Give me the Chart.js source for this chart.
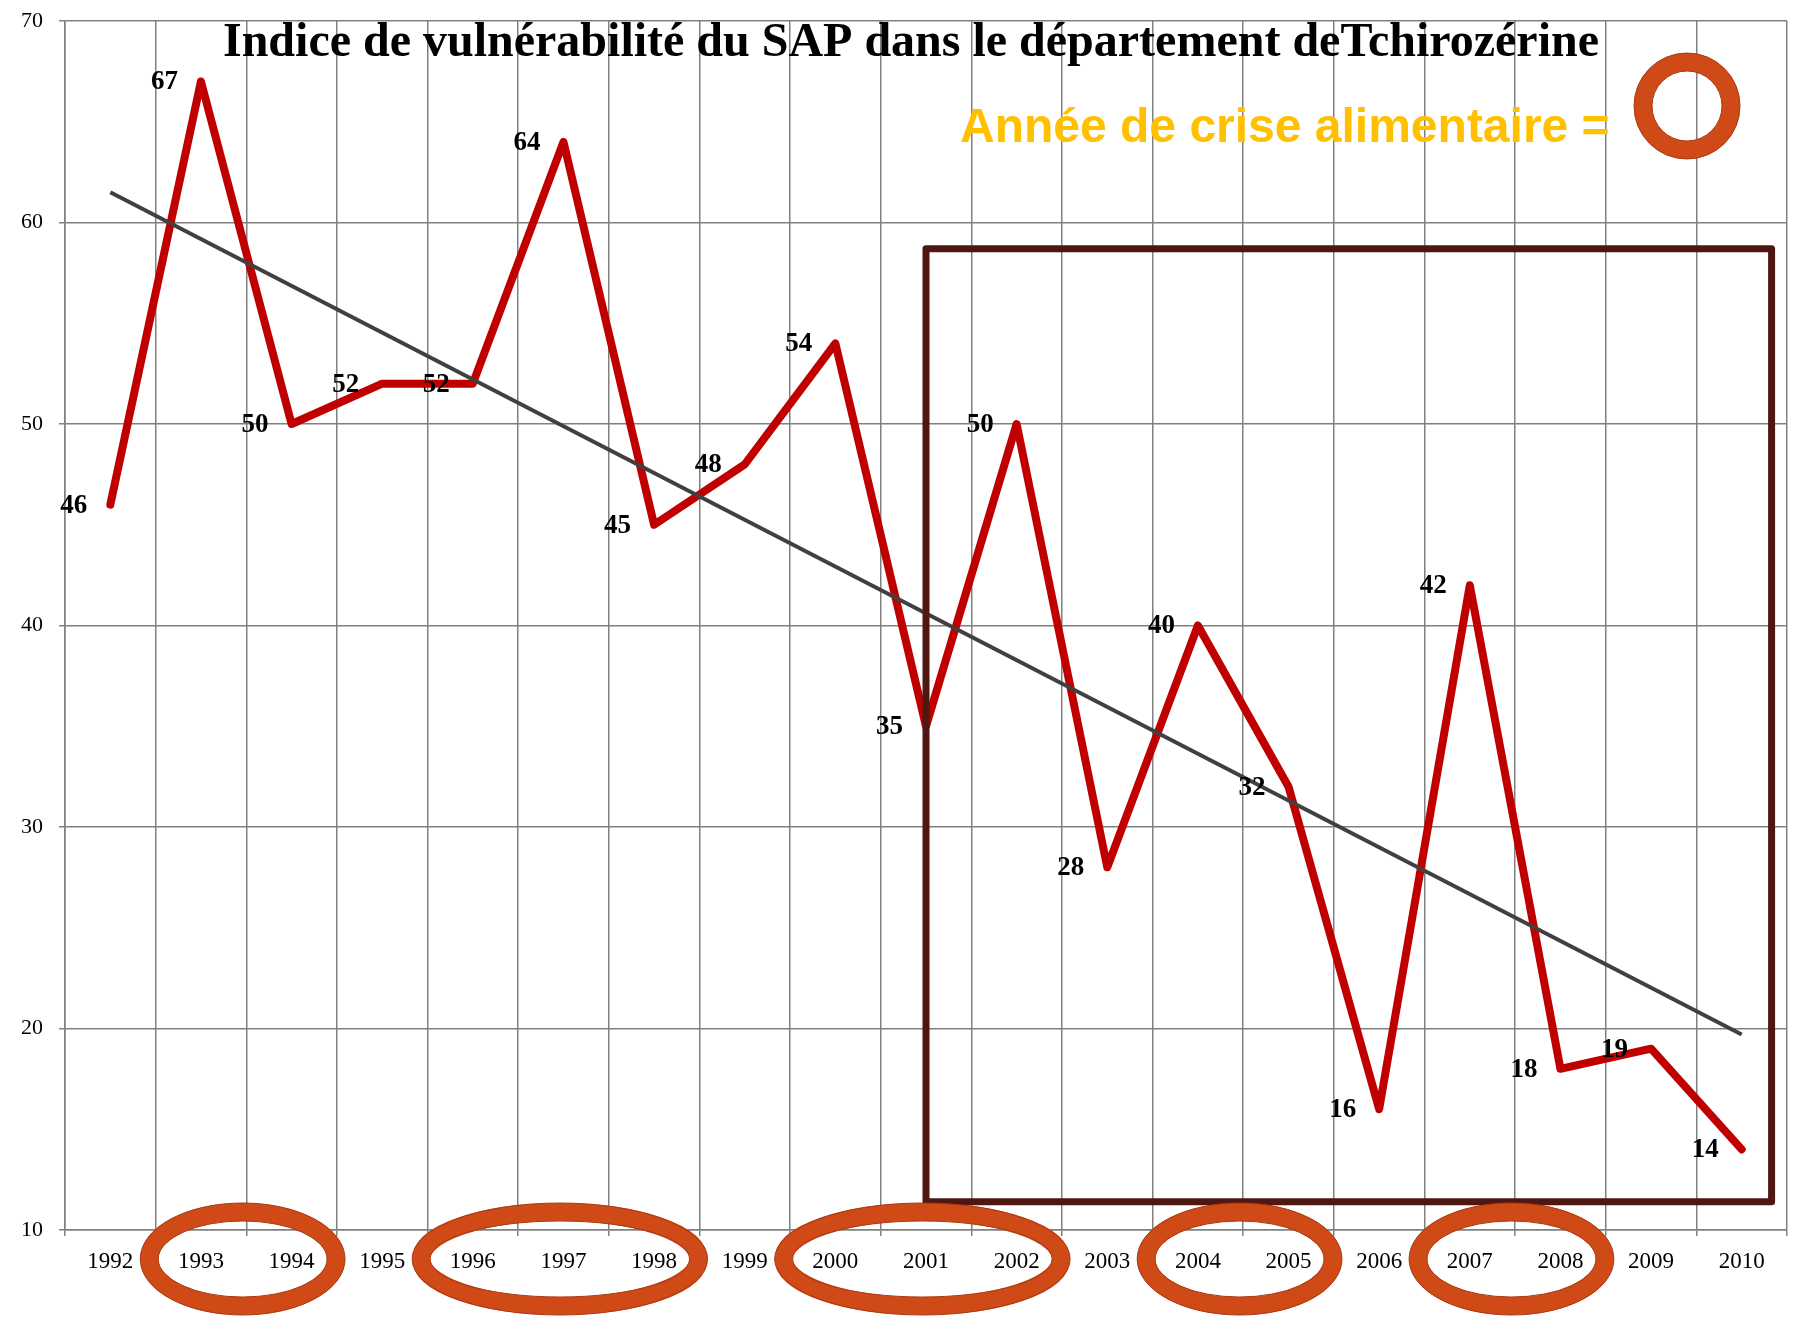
<!DOCTYPE html>
<html>
<head>
<meta charset="utf-8">
<script src="https://cdn.jsdelivr.net/npm/chart.js@4.4.1/dist/chart.umd.min.js"></script>
<style>
  body { margin: 0; background: #fff; }
  #wrap { width: 1797px; height: 1319px; position: relative; }
</style>
</head>
<body>
<div id="wrap"><canvas id="chart"></canvas></div>
<script>
// Données
const annees = ['1992', '1993', '1994', '1995', '1996', '1997', '1998', '1999', '2000', '2001',
                '2002', '2003', '2004', '2005', '2006', '2007', '2008', '2009', '2010'];
const indice = [46, 67, 50, 52, 52, 64, 45, 48, 54, 35, 50, 28, 40, 32, 16, 42, 18, 19, 14];
// courbe de tendance : seulement les deux extrémités
const tendance = [61.5, null, null, null, null, null, null, null, null, null,
                  null, null, null, null, null, null, null, null, 19.7];
const yTicks = [10, 20, 30, 40, 50, 60, 70];
// années de crise alimentaire (entourées)
const anneesCrise = [['1993', '1994'], ['1996', '1997', '1998'], ['2000', '2001', '2002'],
                     ['2004', '2005'], ['2007', '2008']];
const titre = 'Indice de vulnérabilité du SAP dans le département deTchirozérine';
const legendeCrise = 'Année de crise alimentaire =';

const ORANGE = '#D04A18';
const ORANGE_BORD = '#A83A12';

function anneau(ctx, cx, cy, rx, ry, bande) {
    ctx.save();
    ctx.beginPath();
    ctx.ellipse(cx, cy, rx - bande / 2, ry - bande / 2, 0, 0, Math.PI * 2);
    ctx.strokeStyle = ORANGE;
    ctx.lineWidth = bande;
    ctx.stroke();
    ctx.lineWidth = 1;
    ctx.strokeStyle = ORANGE_BORD;
    ctx.beginPath();
    ctx.ellipse(cx, cy, rx, ry, 0, 0, Math.PI * 2);
    ctx.stroke();
    ctx.beginPath();
    ctx.ellipse(cx, cy, rx - bande, ry - bande, 0, 0, Math.PI * 2);
    ctx.stroke();
    ctx.restore();
}

// Étiquettes de valeurs à gauche des points
const etiquettes = {
    id: 'etiquettes',
    afterDatasetsDraw(chart) {
        const ctx = chart.ctx;
        const meta = chart.getDatasetMeta(1);
        ctx.save();
        ctx.font = 'bold 27px "Liberation Serif"';
        ctx.fillStyle = '#000';
        ctx.textAlign = 'right';
        ctx.textBaseline = 'middle';
        meta.data.forEach((pt, i) => {
            ctx.fillText(String(indice[i]), pt.x - 23, pt.y + 1);
        });
        ctx.restore();
    }
};

// Cadre, ellipses, titre et légende dessinés par-dessus
const decor = {
    id: 'decor',
    afterDraw(chart) {
        const ctx = chart.ctx;
        const x = chart.scales.x;
        const y = chart.scales.y;
        const pas = x.getPixelForValue(1) - x.getPixelForValue(0);

        // cadre 2001-2010
        ctx.save();
        ctx.strokeStyle = '#4E1712';
        ctx.lineWidth = 7;
        ctx.lineJoin = 'round';
        const x0 = x.getPixelForValue(9.0);
        const x1 = x.getPixelForValue(18.33);
        const y0 = y.getPixelForValue(58.7);
        const y1 = y.getPixelForValue(11.4);
        ctx.strokeRect(x0, y0, x1 - x0, y1 - y0);
        ctx.restore();

        // ellipses des années de crise
        const cy = x.top + 29;
        anneesCrise.forEach(groupe => {
            const idx = groupe.map(a => annees.indexOf(a));
            const centre = idx.reduce((s, v) => s + v, 0) / idx.length - 0.04;
            const rx = ((idx.length - 1) / 2 + 0.63) * pas;
            anneau(ctx, x.getPixelForValue(centre), cy, rx, 56, 18);
        });

        // titre
        ctx.save();
        ctx.fillStyle = '#000';
        ctx.font = 'bold 48px "Liberation Serif"';
        ctx.textAlign = 'center';
        ctx.textBaseline = 'alphabetic';
        ctx.fillText(titre, 911, 56);

        // légende
        ctx.fillStyle = '#FFC000';
        ctx.font = 'bold 48px "Liberation Sans"';
        ctx.textAlign = 'left';
        ctx.fillText(legendeCrise, 960, 142);
        ctx.restore();
        anneau(ctx, 1687, 106, 53, 53, 18);
    }
};

const ctx = document.getElementById('chart').getContext('2d');
new Chart(ctx, {
    type: 'line',
    data: {
        labels: annees,
        datasets: [{
            label: 'Tendance',
            data: tendance,
            borderColor: '#404040',
            borderWidth: 4,
            pointRadius: 0,
            spanGaps: true,
            order: 0
        }, {
            label: 'Indice de vulnérabilité',
            data: indice,
            borderColor: '#C00000',
            borderWidth: 8,
            borderCapStyle: 'round',
            borderJoinStyle: 'round',
            pointRadius: 0,
            tension: 0,
            order: 1
        }]
    },
    options: {
        responsive: true,
        maintainAspectRatio: false,
        animation: false,
        layout: { padding: { top: 21, right: 10, left: 0, bottom: 0 } },
        plugins: {
            legend: { display: false },
            title: { display: false },
            tooltip: { enabled: false }
        },
        scales: {
            x: {
                offset: true,
                grid: { offset: true, color: '#808080', lineWidth: 1.5, tickLength: 6 },
                border: { color: '#808080', width: 1.5 },
                ticks: {
                    color: '#000',
                    font: { family: 'Liberation Serif', size: 23 },
                    padding: 12,
                    maxRotation: 0,
                    autoSkip: false
                },
                afterFit(scale) { scale.height = 89; }
            },
            y: {
                min: 10,
                max: 70,
                afterBuildTicks(scale) { scale.ticks = yTicks.map(v => ({ value: v })); },
                grid: { color: '#808080', lineWidth: 1.5, tickLength: 6 },
                border: { color: '#808080', width: 1.5 },
                ticks: {
                    color: '#000',
                    font: { family: 'Liberation Serif', size: 22 },
                    padding: 16
                },
                afterFit(scale) {
                    scale.width = 65;
                    scale.paddingTop = 0;
                    scale.paddingBottom = 0;
                }
            }
        }
    },
    plugins: [etiquettes, decor]
});
</script>
</body>
</html>
